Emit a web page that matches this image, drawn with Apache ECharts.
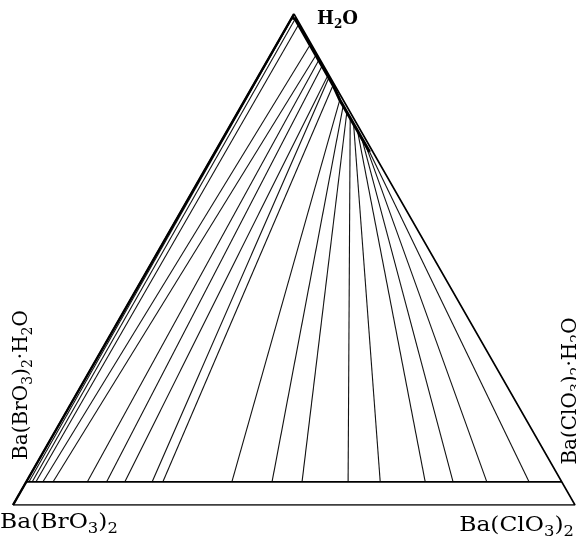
<!DOCTYPE html>
<html>
<head>
<meta charset="utf-8">
<script src="https://cdn.jsdelivr.net/npm/echarts@6/dist/echarts.min.js"></script>
<style>
    html, body {margin: 0; padding: 0; background: #fff;}
    #main {width: 576px; height: 536px;}
</style>
</head>
<body>
<div id="main"></div>
<script>
/* liquid phase: % Ba(ClO3)2 and % Ba(BrO3)2, rest is water */
var liquidClO3 = [0.1, 0.7, 1.9, 6.0, 8.1, 9.1, 10.3, 12.3, 12.7, 14.2,
                  16.9, 18.1, 19.4, 20.6, 21.8, 23.2, 24.7, 26.1, 27.5];
var liquidBrO3 = [0.3, 0.3, 0.3, 0.3, 0.3, 0.3, 0.3, 0.3, 0.3, 0.3,
                  0.6, 0.6, 0.6, 0.6, 0.6, 0.6, 0.6, 0.6, 0.6];
/* solid phase: % Ba(ClO3)2.H2O in the mixed hydrate */
var solidClO3 = [0.5, 1.1, 1.8, 3.1, 5.0, 11.4, 15.0, 18.4, 23.5, 25.5,
                 38.4, 45.9, 51.5, 60.1, 66.1, 74.5, 79.7, 86.0, 93.9];
var hydrateWater = 4.7;
/* vertex labels, {s|..} = subscript */
var vertexLabels = [
    '{n|H}{s|2}{n|O}',
    '{n|Ba(BrO}{s|3}{n|)}{s|2}',
    '{n|Ba(ClO}{s|3}{n|)}{s|2}',
    '{n|Ba(BrO}{s|3}{n|)}{s|2}{n|·H}{s|2}{n|O}',
    '{n|Ba(ClO}{s|3}{n|)}{s|2}{n|·H}{s|2}{n|O}'
];

/* ternary -> x,y : x = chlorate + water/2, y = water */
function toXY(clo3, water) {
    return [clo3 + water / 2, water];
}

var tieLines = [],
    curve = [toXY(0, 99.2)];
for (var i = 0; i < solidClO3.length; i++) {
    var w = 100 - liquidClO3[i] - liquidBrO3[i];
    var liqPt = toXY(liquidClO3[i], w);
    var solPt = toXY(solidClO3[i] / 100 * (100 - hydrateWater), hydrateWater);
    tieLines.push({coords: [liqPt, solPt]});
    curve.push(liqPt);
}

var font = '"DejaVu Serif", serif';
function richStyle(size, weight) {
    return {
        n: {fontFamily: font, fontSize: size, fontWeight: weight, lineHeight: size + 6, verticalAlign: 'middle', fill: '#000'},
        s: {fontFamily: font, fontSize: Math.round(size * 0.68), fontWeight: weight, lineHeight: size + 6, verticalAlign: 'bottom', fill: '#000'}
    };
}
function label(text, x, y, size, opts) {
    var el = {
        type: 'text', x: x, y: y,
        style: {text: text, rich: richStyle(size, opts.weight || 'normal'),
            align: opts.align || 'left', verticalAlign: 'middle'}
    };
    if (opts.rotate) el.rotation = opts.rotate;
    if (opts.scaleX) el.scaleX = opts.scaleX;
    return el;
}

var myChart = echarts.init(document.getElementById('main'));
var option = {
    animation: false,
    grid: {left: 13, right: 1, top: 14, bottom: 31},
    xAxis: {type: 'value', min: 0, max: 100, show: false},
    yAxis: {type: 'value', min: 0, max: 100, show: false},
    series: [
        {
            type: 'lines',
            coordinateSystem: 'cartesian2d',
            silent: true,
            lineStyle: {color: '#111', width: 1.1, opacity: 1},
            data: tieLines
        },
        {
            /* triangle outline */
            type: 'line',
            symbol: 'none',
            lineStyle: {color: '#000', width: 1.6},
            data: [toXY(0, 0), toXY(0, 100), toXY(100, 0), toXY(0, 0)]
        },
        {
            /* hydrate line */
            type: 'line',
            symbol: 'none',
            lineStyle: {color: '#000', width: 1.6},
            data: [toXY(0, hydrateWater), toXY(100 - hydrateWater, hydrateWater)]
        },
        {
            /* left edge appears heavier */
            type: 'line',
            symbol: 'none',
            lineStyle: {color: '#000', width: 2.4},
            data: [toXY(0, 0), toXY(0, 100)]
        },
        {
            /* saturation curve */
            type: 'line',
            symbol: 'none',
            lineStyle: {color: '#000', width: 3},
            data: curve
        }
    ],
    graphic: [
        label(vertexLabels[0], 317, 19, 18, {weight: 'bold'}),
        label(vertexLabels[1], 0, 523, 20, {scaleX: 1.17}),
        label(vertexLabels[2], 574, 526, 20, {align: 'right', scaleX: 1.17}),
        label(vertexLabels[3], 22, 385, 20, {align: 'center', rotate: Math.PI / 2}),
        label(vertexLabels[4], 571, 391, 20, {align: 'center', rotate: Math.PI / 2})
    ]
};
myChart.setOption(option);
</script>
</body>
</html>
